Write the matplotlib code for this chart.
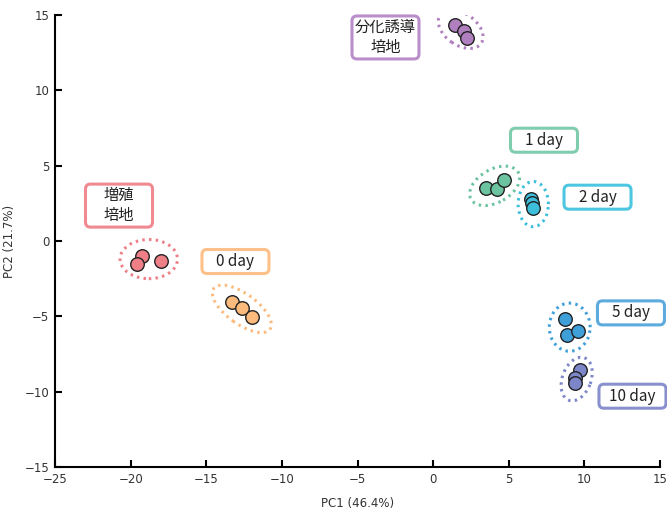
import matplotlib.pyplot as plt
from matplotlib.patches import Ellipse, FancyBboxPatch
from matplotlib.transforms import ScaledTranslation

plt.rcParams['font.family'] = ['DejaVu Sans']

# PCA scores per group
groups = ['増殖\n培地', '0 day', '分化誘導\n培地', '1 day', '2 day', '5 day', '10 day']
pc1 = [
    [-19.27, -19.6, -17.99],
    [-13.32, -12.66, -11.96],
    [1.45, 2.04, 2.22],
    [3.5, 4.24, 4.71],
    [6.5, 6.54, 6.6],
    [8.72, 8.83, 9.6],
    [9.71, 9.38, 9.38],
]
pc2 = [
    [-0.99, -1.52, -1.30],
    [-4.02, -4.46, -5.01],
    [14.37, 13.97, 13.46],
    [3.49, 3.42, 4.04],
    [2.81, 2.52, 2.19],
    [-5.19, -6.23, -5.94],
    [-8.54, -9.09, -9.42],
]
fill_colors = ['#EF7F87', '#FDBA7D', '#B07FC0', '#6CC3A0', '#3DBFDC', '#3F9FD9', '#7C86C8']
box_colors = ['#F08A90', '#FDC088', '#BA8ECA', '#80CCAF', '#4CC6E1', '#5DAADD', '#8891CD']

# group ellipses: centre, width, height, angle
ell_center = [(-18.8, -1.2), (-12.65, -4.5), (1.82, 14.06), (4.07, 3.66),
              (6.62, 2.45), (9.03, -5.72), (9.49, -9.16)]
ell_size = [(3.8, 2.6), (4.6, 2.0), (3.3, 2.1), (3.6, 2.2),
            (3.0, 2.0), (3.2, 2.7), (3.0, 1.9)]
ell_angle = [0, -36, -35, 30, 90, 90, 70]

# label box centres in data units
label_pos = [(-20.77, 2.35), (-13.07, -1.36), (-3.15, 13.51), (7.33, 6.69),
             (10.87, 2.91), (13.08, -4.77), (13.18, -10.3)]

fig = plt.figure(figsize=(6.67, 5.14), dpi=100)
ax = fig.add_axes([0.0825, 0.0914, 0.907, 0.8794])

for i in range(len(groups)):
    (cx, cy), (w, h) = ell_center[i], ell_size[i]
    ax.add_patch(Ellipse((cx, cy), w, h, angle=ell_angle[i], fill=False,
                         edgecolor=fill_colors[i], lw=2.2,
                         linestyle=(0, (0.8, 1.4)), zorder=2))
    ax.scatter(pc1[i], pc2[i], s=95, color=fill_colors[i],
               edgecolor='#222222', linewidth=1.0, zorder=3)

    lx, ly = label_pos[i]
    two_lines = '\n' in groups[i]
    bw, bh = 0.67, (0.43 if two_lines else 0.24)
    tr = fig.dpi_scale_trans + ScaledTranslation(lx, ly, ax.transData)
    ax.add_patch(FancyBboxPatch((-bw / 2, -bh / 2), bw, bh,
                                boxstyle='round,pad=0,rounding_size=0.05',
                                transform=tr, facecolor='white',
                                edgecolor=box_colors[i], lw=2.2,
                                clip_on=False, zorder=4))
    ax.text(lx, ly, groups[i], ha='center', va='center', fontsize=11,
            linespacing=1.2, color='#222222', zorder=5,
            family=['Noto Sans CJK JP', 'DejaVu Sans'])

ax.set_xlim(-25, 15)
ax.set_ylim(-15, 15)
ax.set_xticks(range(-25, 16, 5))
ax.set_yticks(range(-15, 16, 5))
ax.spines['top'].set_visible(False)
ax.spines['right'].set_visible(False)
for s in ('left', 'bottom'):
    ax.spines[s].set_linewidth(1.5)
ax.tick_params(direction='in', length=5, width=1.5, labelsize=8.5,
               labelcolor='#333333', pad=4)
ax.set_xlabel('PC1 (46.4%)', fontsize=8.5, color='#333333', labelpad=8)
ax.set_ylabel('PC2 (21.7%)', fontsize=8.5, color='#333333', labelpad=6)

fig.savefig('out.png', dpi=100)
